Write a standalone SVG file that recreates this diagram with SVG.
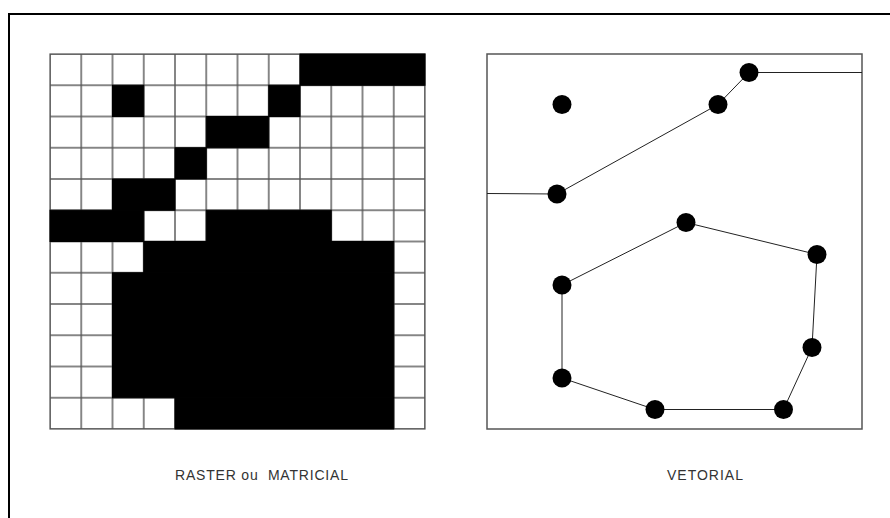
<svg xmlns="http://www.w3.org/2000/svg" width="890" height="518" viewBox="0 0 890 518">
<style>
.cell{fill:#fff;stroke:#555;stroke-width:1}
.blk{fill:#000;stroke:#000;stroke-width:1}
.dot{fill:#000}
.ln{stroke:#222;stroke-width:1;fill:none}
.lbl{font-family:"Liberation Sans",Arial,sans-serif;font-size:14px;fill:#333}
</style>
<defs>
<pattern id="grid" x="50" y="54" width="31.25" height="31.25" patternUnits="userSpaceOnUse">
<rect width="31.25" height="31.25" fill="#fff" stroke="#555" stroke-width="1.4"/>
</pattern>
</defs>
<rect width="890" height="518" fill="#fff"/>
<path d="M9,518 V14 H890" fill="none" stroke="#000" stroke-width="2"/>
<g id="raster">
<rect x="50" y="54" width="375" height="375" fill="url(#grid)" stroke="#555" stroke-width="1.2"/>
<g class="blk">
<rect x="300" y="54" width="125" height="31.25"/>
<rect x="112.5" y="85.25" width="31.25" height="31.25"/>
<rect x="268.75" y="85.25" width="31.25" height="31.25"/>
<rect x="206.25" y="116.5" width="62.5" height="31.25"/>
<rect x="175" y="147.75" width="31.25" height="31.25"/>
<rect x="112.5" y="179" width="62.5" height="31.25"/>
<rect x="50" y="210.25" width="93.75" height="31.25"/>
<rect x="206.25" y="210.25" width="125" height="31.25"/>
<rect x="143.75" y="241.5" width="250" height="31.25"/>
<rect x="112.5" y="272.75" width="281.25" height="125"/>
<rect x="175" y="397.75" width="218.75" height="31.25"/>
</g>
</g>
<g id="vector">
<rect x="487" y="54" width="375" height="375" fill="none" stroke="#555" stroke-width="1.5"/>
<g id="connectors" class="ln">
<polyline points="487,193.5 557,194 718,104.5 749,72.5 862,72.5"/>
<polygon points="562,285 686,222.5 817,254.5 812,347.5 783.5,409.5 655,409.5 562,378"/>
</g>
<g id="n-iso"><circle class="dot" cx="562" cy="104.5" r="9.5"/></g>
<g id="n-a1"><circle class="dot" cx="557" cy="194" r="9.5"/></g>
<g id="n-a2"><circle class="dot" cx="718" cy="104.5" r="9.5"/></g>
<g id="n-a3"><circle class="dot" cx="749" cy="72.5" r="9.5"/></g>
<g id="n-p1"><circle class="dot" cx="562" cy="285" r="9.5"/></g>
<g id="n-p2"><circle class="dot" cx="686" cy="222.5" r="9.5"/></g>
<g id="n-p3"><circle class="dot" cx="817" cy="254.5" r="9.5"/></g>
<g id="n-p4"><circle class="dot" cx="812" cy="347.5" r="9.5"/></g>
<g id="n-p5"><circle class="dot" cx="783.5" cy="409.5" r="9.5"/></g>
<g id="n-p6"><circle class="dot" cx="655" cy="409.5" r="9.5"/></g>
<g id="n-p7"><circle class="dot" cx="562" cy="378" r="9.5"/></g>
</g>
<text class="lbl" x="175" y="480" textLength="173" lengthAdjust="spacing" xml:space="preserve">RASTER ou  MATRICIAL</text>
<text class="lbl" x="667" y="480" textLength="76" lengthAdjust="spacing">VETORIAL</text>
</svg>
